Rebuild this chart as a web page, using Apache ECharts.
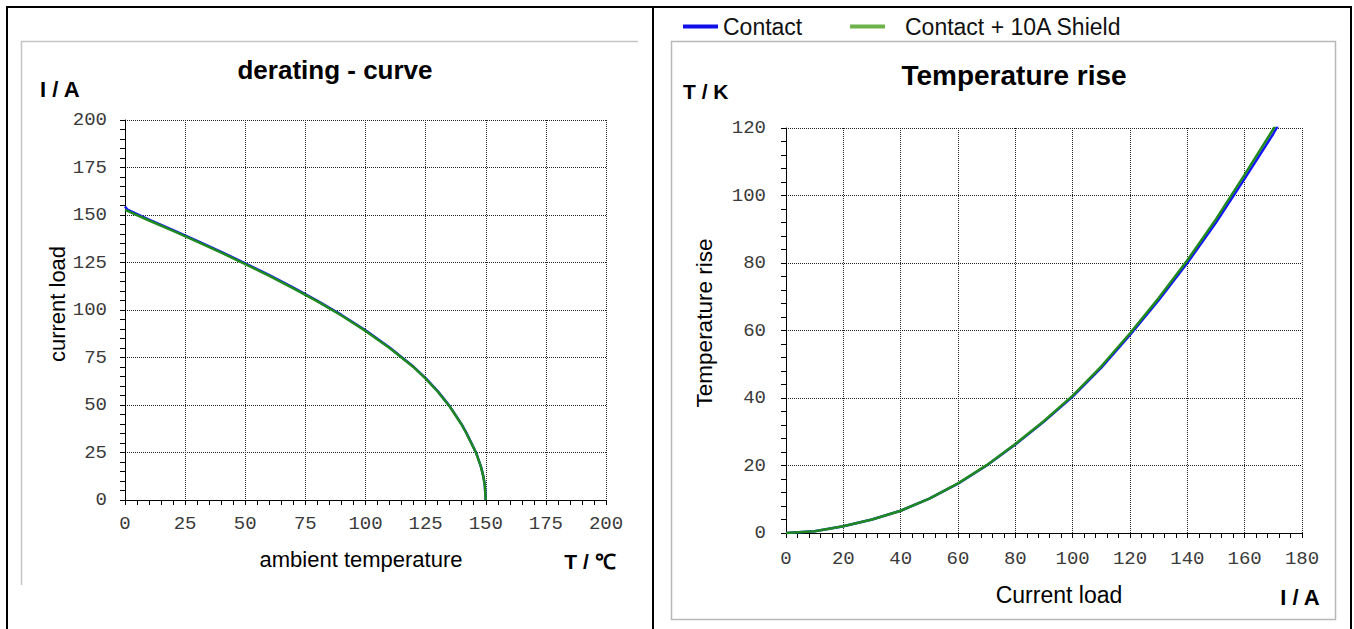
<!DOCTYPE html>
<html>
<head>
<meta charset="utf-8">
<script src="https://cdn.jsdelivr.net/npm/echarts@6/dist/echarts.min.js"></script>
<style>
html,body{margin:0;padding:0;background:#fff;}
#chart{width:1354px;height:629px;}
</style>
</head>
<body>
<div id="chart"></div>
<script>
// ---- Derating curve data (ambient temperature °C -> current A) ----
const deratingTemp     = [0, 1, 10, 20, 30, 40, 50, 60, 70, 80, 90, 100, 110, 120, 125, 130, 135, 140, 142, 146, 148, 149, 149.6, 150];
const contactDerating  = [154.5, 152.8, 147.6, 142.0, 136.4, 130.6, 124.6, 118.4, 111.8, 104.8, 97.4, 89.3, 80.3, 70.1, 64.1, 57.3, 49.4, 39.8, 35.2, 24.9, 17.6, 12.5, 8.0, 0];
const shieldDerating   = [152.6, 152.2, 147.1, 141.6, 136.0, 130.2, 124.2, 118.0, 111.4, 104.5, 97.1, 89.0, 80.0, 69.9, 63.9, 57.1, 49.2, 39.6, 35.0, 24.7, 17.4, 12.3, 7.8, 0];

// ---- Temperature rise data (current A -> temperature rise K) ----
const riseCurrent  = [0, 10, 20, 30, 40, 50, 60, 70, 80, 90, 100, 110, 120, 130, 140, 150, 160, 170, 172];
const contactRise  = [0, 0.5, 2.0, 4.0, 6.6, 10.2, 14.6, 20.0, 26.2, 33.0, 40.4, 49.0, 58.7, 69.0, 80.0, 92.0, 105.0, 118.3, 121.3];
const shieldRise   = [0, 0.5, 2.0, 4.0, 6.6, 10.2, 14.7, 20.1, 26.4, 33.2, 40.7, 49.4, 59.2, 69.6, 80.8, 93.0, 106.2, 119.7, 122.7];

// ---- Tick settings ----
const deratingXTicks = {min: 0, max: 200, interval: 25};
const deratingYTicks = {min: 0, max: 200, interval: 25};
const riseXTicks     = {min: 0, max: 180, interval: 20};
const riseYTicks     = {min: 0, max: 120, interval: 20};

const seriesNames = ['Contact', 'Contact + 10A Shield'];

function pairs(xs, ys){ return xs.map((x,i)=>[x, ys[i]]); }

const monoLabel = {fontFamily: 'Liberation Mono', fontSize: 19, color: '#3a3a3a'};
const splitStyle = {show: true, lineStyle: {type: 'dotted', color: '#222', width: 1}};
const axisLineStyle = {show: true, onZero: false, lineStyle: {color: '#000', width: 1}};
const tickStyle = {show: true, length: 5, lineStyle: {color: '#000'}};
const minorStyle = {show: true, splitNumber: 5, length: 5, lineStyle: {color: '#000'}};

function valAxis(t, gridIndex, labelMargin){
  return {
    type: 'value', gridIndex, min: t.min, max: t.max, interval: t.interval,
    axisLine: axisLineStyle, axisTick: tickStyle, minorTick: minorStyle,
    splitLine: splitStyle, axisLabel: Object.assign({margin: labelMargin}, monoLabel)
  };
}

const chart = echarts.init(document.getElementById('chart'), null, {renderer: 'svg'});

const sans = 'Liberation Sans, Arial, sans-serif';
function txt(text, x, y, opts){
  return Object.assign({
    type: 'text', x, y,
    style: Object.assign({text, fill: '#000', font: '20px ' + sans, align: 'center', verticalAlign: 'middle'}, opts && opts.style || {})
  }, opts && opts.extra || {});
}
function line(x1,y1,x2,y2,color,w){
  return {type: 'line', shape: {x1,y1,x2,y2}, style: {stroke: color, lineWidth: w}, silent: true, z: -1};
}

const option = {
  animation: false,
  backgroundColor: '#fff',
  grid: [
    {left: 125, top: 120, width: 481, height: 380},
    {left: 786, top: 128, width: 516, height: 405}
  ],
  xAxis: [
    valAxis(deratingXTicks, 0, 14),
    valAxis(riseXTicks, 1, 16)
  ],
  yAxis: [
    valAxis(deratingYTicks, 0, 18),
    valAxis(riseYTicks, 1, 20)
  ],
  legend: [
    {left: 683, top: 15, padding: 0, itemWidth: 35, itemHeight: 4, itemGap: 10,
     data: [{name: seriesNames[0], icon: 'rect', itemStyle: {color: '#1010e8'}}],
     textStyle: {fontFamily: sans, fontSize: 23, color: '#111', padding: [0,0,0,0]}},
    {left: 850, top: 15, padding: 0, itemWidth: 35, itemHeight: 4,
     data: [{name: seriesNames[1], icon: 'rect', itemStyle: {color: '#6db34a'}}],
     textStyle: {fontFamily: sans, fontSize: 23, color: '#111', padding: [0,0,0,15]}}
  ],
  series: [
    {name: seriesNames[0], type: 'line', xAxisIndex: 0, yAxisIndex: 0, showSymbol: false, symbol: 'none',
     data: pairs(deratingTemp, contactDerating), lineStyle: {color: '#1414ff', width: 2.5}, itemStyle: {color: '#1414ff'}, z: 2},
    {name: seriesNames[1], type: 'line', xAxisIndex: 0, yAxisIndex: 0, showSymbol: false, symbol: 'none',
     data: pairs(deratingTemp, shieldDerating), lineStyle: {color: '#1e8a1e', width: 2.5}, itemStyle: {color: '#1e8a1e'}, z: 3},
    {name: seriesNames[0], type: 'line', xAxisIndex: 1, yAxisIndex: 1, showSymbol: false, symbol: 'none',
     data: pairs(riseCurrent, contactRise), lineStyle: {color: '#1414ff', width: 2.5}, itemStyle: {color: '#1414ff'}, z: 2},
    {name: seriesNames[1], type: 'line', xAxisIndex: 1, yAxisIndex: 1, showSymbol: false, symbol: 'none',
     data: pairs(riseCurrent, shieldRise), lineStyle: {color: '#1e8a1e', width: 2.5}, itemStyle: {color: '#1e8a1e'}, z: 3}
  ],
  graphic: [
    // outer black frame
    line(6, 7, 1352, 7, '#000', 2),
    line(7, 6, 7, 629, '#000', 2),
    line(653, 6, 653, 629, '#000', 2),
    line(1351, 6, 1351, 629, '#000', 2),
    // left inner gray box (partial)
    line(21, 41.5, 638, 41.5, '#c4c4c4', 1.5),
    line(21.5, 41, 21.5, 585, '#c4c4c4', 1.5),
    // right inner gray box
    {type: 'rect', shape: {x: 671.5, y: 41.5, width: 664, height: 578}, style: {fill: 'none', stroke: '#b8b8b8', lineWidth: 1.5}, silent: true, z: -1},
    // left chart texts
    txt('derating - curve', 335, 70, {style: {font: 'bold 26px ' + sans}}),
    txt('I / A', 40, 89, {style: {font: 'bold 22px ' + sans, align: 'left'}}),
    txt('current load', 57, 304, {extra: {rotation: Math.PI/2}, style: {font: '22px ' + sans}}),
    txt('ambient temperature', 361, 559, {style: {font: '22px ' + sans}}),
    txt('T / \u2103', 590, 561, {style: {font: 'bold 21px ' + sans}}),
    // right chart texts
    txt('Temperature rise', 1014, 75, {style: {font: 'bold 28px ' + sans}}),
    txt('T / K', 683, 91, {style: {font: 'bold 21px ' + sans, align: 'left'}}),
    txt('Temperature rise', 704, 323, {extra: {rotation: Math.PI/2}, style: {font: '22.5px ' + sans}}),
    txt('Current load', 1059, 595, {style: {font: '23px ' + sans}}),
    txt('I / A', 1300, 597, {style: {font: 'bold 22px ' + sans}})
  ]
};
chart.setOption(option);
</script>
</body>
</html>
